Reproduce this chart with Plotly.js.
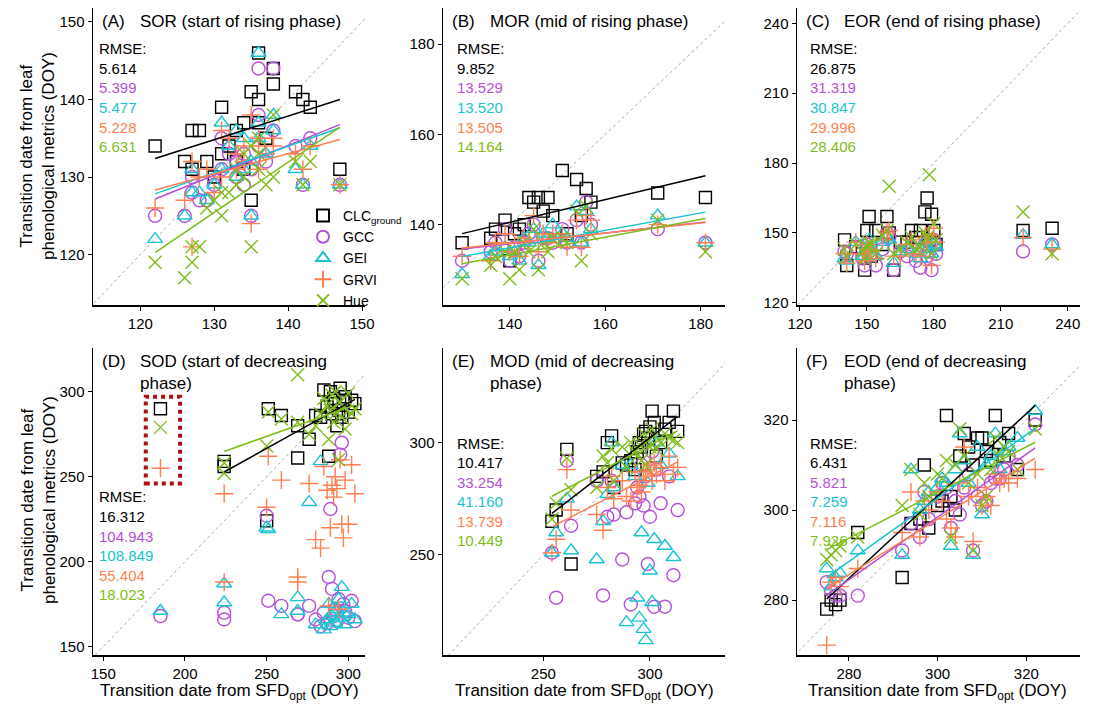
<!DOCTYPE html>
<html><head><meta charset="utf-8">
<script src="https://cdn.plot.ly/plotly-3.0.1.min.js"></script>
<style>body{margin:0}#c{width:1096px;height:716px}</style></head>
<body><div id="c"></div>
<script>
// ---- data ----
const seriesNames = ["CLC<sub>ground</sub>","GCC","GEI","GRVI","Hue"];
const xA = [122,126,127,127,128,129,130,131,131,132,133,133,134,134,135,135,136,136,136,137,138,138,141,142,143,147];
const A_CLC = [134,132,136,131,136,132,130,139,133,134,136,132,137,131,141,127,146,140,137,135,144,142,141,140,139,131];
const A_GCC = [125,125,128,130,127,127,129,135,131,133,130,132,133,129,125,131,144,138,134,132,144,136,134,129,135,129];
const A_GEI = [122,125,131,128,128,127,129,137,131,134,136,130,135,131,125,132,146,137,135,133,138,136,131,129,134,129];
const A_GRVI = [126,127,121,132,130,131,128,136,130,135,131,133,132,134,124,138,135,131,134,133,135,134,133,131,134,129];
const A_Hue = [119,117,119,121,121,126,127,125,128,128,129,131,130,133,121,134,133,135,131,129,138,130,132,129,132,129];

const xB = [130,136,137,139,140,141,142,143,144,145,146,147,148,149,151,152,154,155,156,157,171,181];
const B_CLC = [136,137,139,141,132,138,139,140,146,145,146,143,146,142,152,138,150,142,148,145,147,146];
const B_GCC = [132,134,136,139,132,135,133,136,138,140,132,137,137,136,139,136,141,136,145,140,139,136];
const B_GEI = [129,133,134,135,133,134,132,137,136,139,131,138,137,140,138,137,144,136,143,139,142,136];
const B_GRVI = [133,132,136,138,134,136,133,137,136,142,134,138,136,138,138,135,141,135,142,141,140,136];
const B_Hue = [128,131,133,134,128,134,130,136,134,139,130,136,134,137,137,136,143,132,144,138,141,134];

const xC = [140,141,145,148,149,150,151,152,154,157,159,160,162,165,168,170,172,174,176,177,178,179,180,181,220,233];
const C_CLC = [147,136,144,141,134,151,157,140,151,145,157,150,134,146,146,151,148,151,159,165,147,158,151,145,151,152];
const C_GCC = [142,141,144,139,136,145,142,141,136,143,150,148,134,142,140,144,138,135,145,140,142,134,147,141,142,145];
const C_GEI = [139,138,146,140,140,144,147,143,140,146,148,147,137,142,143,145,141,139,146,143,147,141,145,144,149,145];
const C_GRVI = [141,137,146,141,138,145,143,142,139,147,150,151,140,140,145,147,141,140,148,146,149,136,152,146,148,143];
const C_Hue = [143,140,145,142,139,144,146,145,141,149,151,170,141,143,146,148,143,144,150,148,175,141,154,147,159,141];

const xD = [185,224,224,250,251,259,269,269,276,280,283,285,287,288,289,290,291,292,293,294,295,296,297,298,300,302,304];
const D_CLC = [290,256,259,224,290,286,280,261,272,286,285,301,291,262,300,287,296,293,280,289,302,285,294,297,288,295,293];
const D_GCC = [168,170,166,227,177,174,169,169,174,166,162,170,164,191,231,184,168,172,165,178,263,270,175,171,167,177,165];
const D_GEI = [171,187,176,220,219,169,179,171,235,163,259,160,166,175,162,168,170,164,172,178,167,185,170,163,169,175,166];
const D_GRVI = [255,240,188,232,262,248,191,188,246,213,208,256,242,174,220,245,238,250,243,172,260,222,214,248,222,257,240];
const D_Hue = [279,252,258,268,288,284,282,310,275,280,287,296,292,272,289,298,282,300,288,260,294,285,291,278,299,287,290];

const xE = [254,256,261,263,275,278,280,282,283,287,289,291,293,294,295,296,297,298,299,300,301,302,303,305,307,309,311,313];
const E_CLC = [265,270,297,246,285,287,300,303,280,291,290,292,288,296,300,298,304,305,302,307,314,309,294,300,306,309,314,305];
const E_GCC = [251,231,292,263,283,232,267,283,268,248,269,228,273,280,276,290,272,285,246,267,296,227,288,273,227,285,241,270];
const E_GEI = [251,260,275,252,248,265,277,300,280,290,220,290,285,231,222,260,217,212,282,243,229,257,300,290,254,295,249,285];
const E_GRVI = [251,257,288,270,268,261,280,285,275,283,276,274,287,280,281,278,287,285,288,290,283,291,286,289,283,294,286,289];
const E_Hue = [266,273,293,279,280,294,291,297,283,298,289,300,296,294,299,292,304,290,301,298,306,303,297,300,304,302,301,300];

const xF = [275,276,277,278,282,292,294,296,297,298,300,301,302,303,304,305,306,307,308,309,310,311,312,313,314,315,316,318,322];
const F_CLC = [278,280,279,280,295,285,297,298,310,296,301,302,321,303,300,312,317,314,310,316,316,313,311,321,315,312,317,309,320];
const F_GCC = [284,282,281,281,281,291,297,294,304,298,303,306,305,296,302,299,305,308,291,303,301,302,306,307,307,309,312,310,319];
const F_GEI = [287,283,285,286,291,290,309,300,302,304,305,307,306,292,309,317,311,306,290,314,299,310,312,317,309,313,314,316,322];
const F_GRVI = [270,284,285,283,287,295,304,294,302,300,304,302,298,296,294,306,314,303,293,305,301,303,301,308,306,307,306,307,309];
const F_Hue = [289,290,291,292,294,301,309,299,306,303,308,307,311,294,310,318,312,306,291,308,301,303,309,316,312,314,313,309,318];

const rmseA = ["5.614","5.399","5.477","5.228","6.631"];
const rmseB = ["9.852","13.529","13.520","13.505","14.164"];
const rmseC = ["26.875","31.319","30.847","29.996","28.406"];
const rmseD = ["16.312","104.943","108.849","55.404","18.023"];
const rmseE = ["10.417","33.254","41.160","13.739","10.449"];
const rmseF = ["6.431","5.821","7.259","7.116","7.926"];

const panelLabels = ["(A)","(B)","(C)","(D)","(E)","(F)"];
const panelTitles = ["SOR (start of rising phase)","MOR (mid of rising phase)","EOR (end of rising phase)",
  "SOD (start of decreasing<br>phase)","MOD (mid of decreasing<br>phase)","EOD (end of decreasing<br>phase)"];

// ---- styles ----
const colors = ["#000000","#B550D8","#19C4D2","#FF7F50","#7FBC1A"];
const symbols = ["square-open","circle-open","triangle-up-open","cross-thin-open","x-thin-open"];
const W=1096,H=716;
const panels = [
 {x:xA, ys:[A_CLC,A_GCC,A_GEI,A_GRVI,A_Hue], rm:rmseA, px:[93,365], py:[8,305], xr:[113.6,150.4], yr:[113.5,151.8], tx:[120,130,140,150], ty:[120,130,140,150], fits:[0,1,2,3,4]},
 {x:xB, ys:[B_CLC,B_GCC,B_GEI,B_GRVI,B_Hue], rm:rmseB, px:[443,725], py:[8,305], xr:[126,185.1], yr:[122.2,188], tx:[140,160,180], ty:[140,160,180], fits:[0,1,2,3,4]},
 {x:xC, ys:[C_CLC,C_GCC,C_GEI,C_GRVI,C_Hue], rm:rmseC, px:[797,1080], py:[8,305], xr:[118.7,245.5], yr:[119,246.6], tx:[120,150,180,210,240], ty:[120,150,180,210,240], fits:[]},
 {x:xD, ys:[D_CLC,D_GCC,D_GEI,D_GRVI,D_Hue], rm:rmseD, px:[93,365], py:[348,655], xr:[143.7,310.2], yr:[145.1,325.7], tx:[150,200,250,300], ty:[150,200,250,300], fits:[0,4]},
 {x:xE, ys:[E_CLC,E_GCC,E_GEI,E_GRVI,E_Hue], rm:rmseE, px:[443,725], py:[348,655], xr:[202.9,335.2], yr:[205.5,342.1], tx:[250,300], ty:[250,300], fits:[0,3,4]},
 {x:xF, ys:[F_CLC,F_GCC,F_GEI,F_GRVI,F_Hue], rm:rmseF, px:[797,1080], py:[348,655], xr:[268.3,332.1], yr:[267.8,336], tx:[280,300,320], ty:[280,300,320], fits:[0,1,2,3,4]}
];
const rmsePos = [[97,49],[455,49],[808,49],[97,497],[455,443],[808,443]];
const font = "Arial, Liberation Sans, sans-serif";

function fit(x,y){const n=x.length;let mx=0,my=0;for(let i=0;i<n;i++){mx+=x[i];my+=y[i];}mx/=n;my/=n;
 let sxy=0,sxx=0;for(let i=0;i<n;i++){sxy+=(x[i]-mx)*(y[i]-my);sxx+=(x[i]-mx)**2;}const b=sxy/sxx;return [b,my-b*mx];}

const traces=[], layout={width:W,height:H,margin:{l:0,r:0,t:0,b:0},paper_bgcolor:"white",plot_bgcolor:"white",
 font:{family:font,size:15,color:"#000"},showlegend:true,
 legend:{x:303/W,y:1-200/H,xanchor:"left",yanchor:"top",bgcolor:"rgba(0,0,0,0)",font:{size:14},tracegroupgap:0,itemsizing:"constant"},
 annotations:[],shapes:[]};

panels.forEach((p,k)=>{
 const n=k+1, xa="x"+(n>1?n:""), ya="y"+(n>1?n:"");
 const axX={domain:[p.px[0]/W,p.px[1]/W],range:p.xr,tickvals:p.tx,showgrid:false,zeroline:false,showline:true,linecolor:"#000",linewidth:1.5,
   ticks:"outside",ticklen:4,tickcolor:"#000",anchor:ya,tickfont:{size:15,color:"#000"}};
 const axY={domain:[1-p.py[1]/H,1-p.py[0]/H],range:p.yr,tickvals:p.ty,showgrid:false,zeroline:false,showline:true,linecolor:"#000",linewidth:1.5,
   ticks:"outside",ticklen:4,tickcolor:"#000",anchor:xa,tickfont:{size:15,color:"#000"}};
 layout["xaxis"+(n>1?n:"")]=axX; layout["yaxis"+(n>1?n:"")]=axY;
 traces.push({x:[0,400],y:[0,400],xaxis:xa,yaxis:ya,mode:"lines",line:{color:"#aaaaaa",dash:"dot",width:1},showlegend:false,hoverinfo:"skip"});
 p.ys.forEach((y,s)=>{
  traces.push({x:p.x,y:y,xaxis:xa,yaxis:ya,mode:"markers",name:seriesNames[s],legendgroup:"s"+s,showlegend:k===0,
   marker:{symbol:symbols[s],size:s===0?12:13,color:colors[s],line:{width:1.4,color:colors[s]}}});
 });
 p.fits.forEach(s=>{
  const y=p.ys[s];
  const xs=p.x.slice(k===3?1:0), yv=y.slice(k===3?1:0);
  const [b,a]=fit(xs,yv); const x0=Math.min(...xs), x1=Math.max(...xs);
  traces.push({x:[x0,x1],y:[a+b*x0,a+b*x1],xaxis:xa,yaxis:ya,mode:"lines",line:{color:colors[s],width:1.5},showlegend:false,hoverinfo:"skip"});
 });
 const lx=p.px[0]+7;
 layout.annotations.push({xref:"paper",yref:"paper",x:lx/W,y:1-(p.py[0]+2)/H,xanchor:"left",yanchor:"top",text:panelLabels[k],showarrow:false,font:{size:17}});
 layout.annotations.push({xref:"paper",yref:"paper",x:(lx+38)/W,y:1-(p.py[0]+2)/H,xanchor:"left",yanchor:"top",align:"left",text:panelTitles[k],showarrow:false,font:{size:17}});
 const [rx,ry]=rmsePos[k];
 layout.annotations.push({xref:"paper",yref:"paper",x:rx/W,y:1-ry/H,xanchor:"left",yanchor:"middle",text:"RMSE:",showarrow:false,font:{size:15}});
 p.rm.forEach((v,s)=>layout.annotations.push({xref:"paper",yref:"paper",x:rx/W,y:1-(ry+19.5*(s+1))/H,xanchor:"left",yanchor:"middle",text:v,showarrow:false,font:{size:15,color:colors[s]}}));
});
layout.shapes.push({type:"rect",xref:"x4",yref:"y4",x0:176,x1:197,y0:246,y1:297,line:{color:"#B01010",width:4,dash:"dot"}});
const yt="Transition date from leaf<br>phenological metrics (DOY)";
[156,500].forEach(cy=>layout.annotations.push({xref:"paper",yref:"paper",x:38/W,y:1-cy/H,text:yt,textangle:-90,showarrow:false,font:{size:17},xanchor:"center",yanchor:"middle"}));
[229,585,937].forEach(cx=>layout.annotations.push({xref:"paper",yref:"paper",x:cx/W,y:1-692/H,text:"Transition date from SFD<sub>opt</sub> (DOY)",showarrow:false,font:{size:17},xanchor:"center",yanchor:"middle"}));
Plotly.newPlot("c",traces,layout,{staticPlot:true});
</script></body></html>
